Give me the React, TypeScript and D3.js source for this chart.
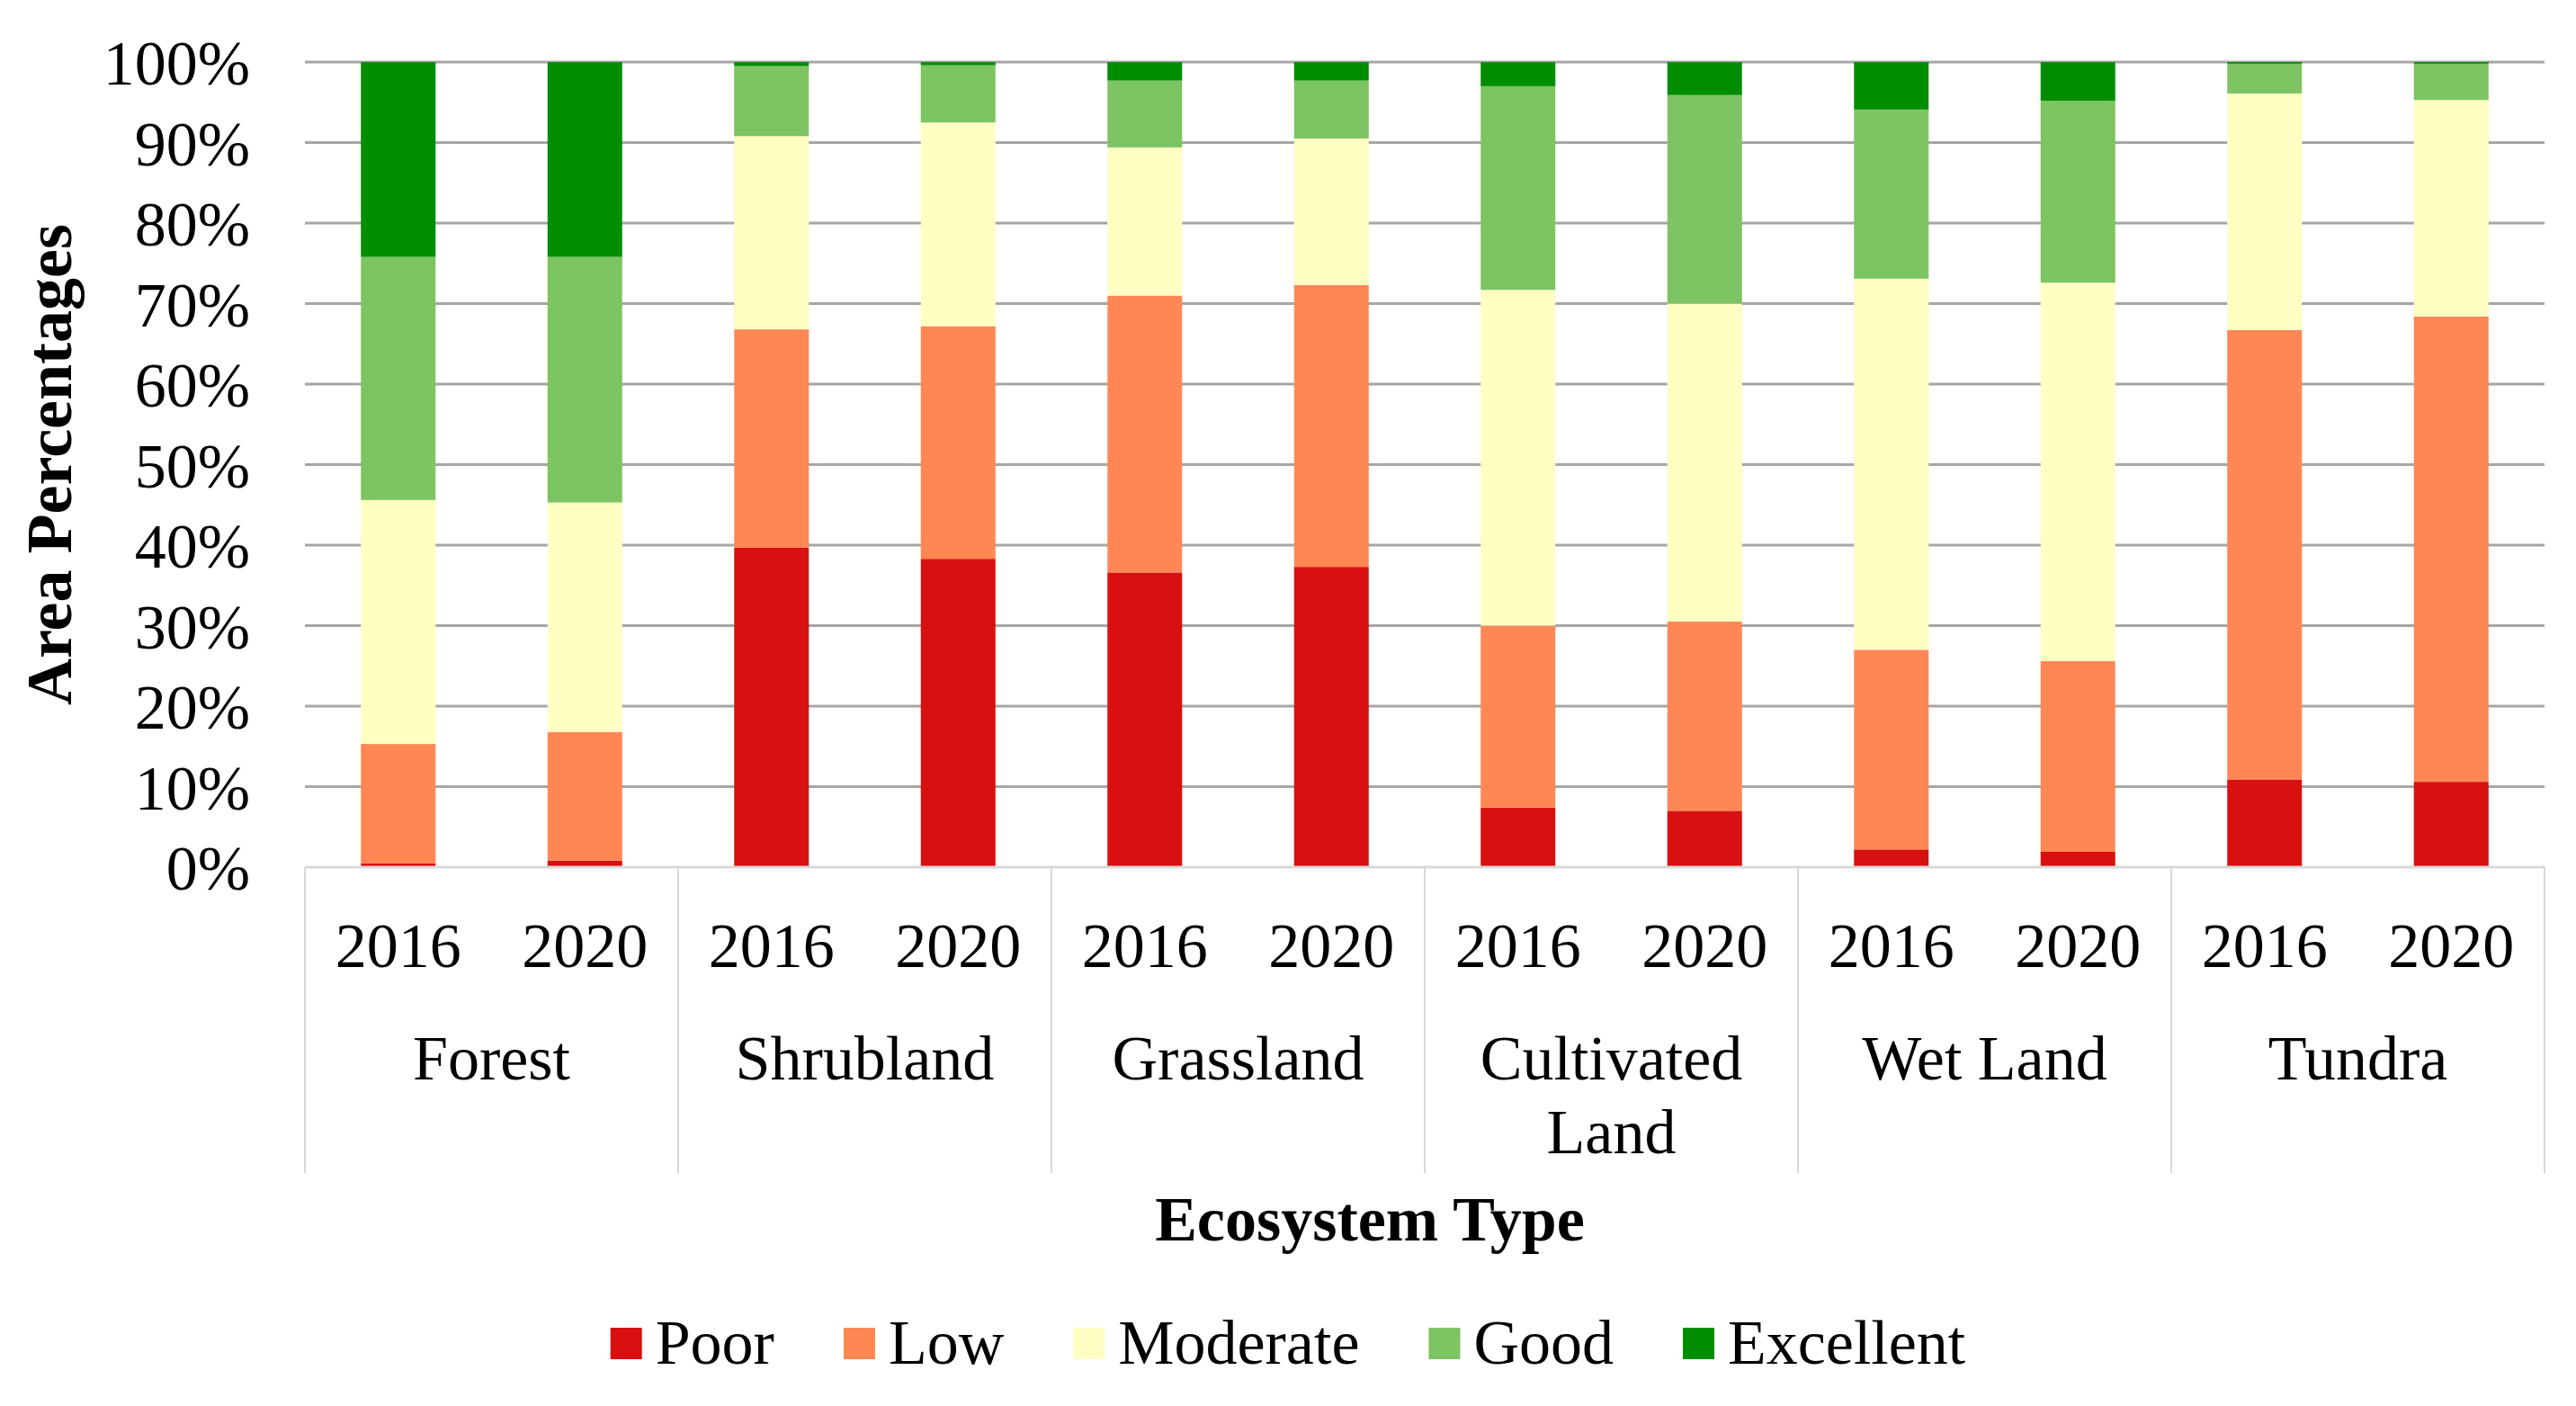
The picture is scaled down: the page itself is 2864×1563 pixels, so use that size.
import * as d3 from 'd3';

const categories = ['Forest', 'Shrubland', 'Grassland', 'Cultivated Land', 'Wet Land', 'Tundra'];
const years = ['2016', '2020'];
const levels = ['Poor', 'Low', 'Moderate', 'Good', 'Excellent'];
const levelColors = ['#D8100F', '#FF8754', '#FFFEC3', '#7DC462', '#008E00'];

// one value per bar: Forest 2016, Forest 2020, Shrubland 2016, ... Tundra 2020
const poor = [0.5, 0.8, 39.7, 38.3, 36.6, 37.3, 7.4, 7.0, 2.2, 1.9, 10.9, 10.6];
const low = [14.8, 16.0, 27.1, 28.9, 34.4, 35.0, 22.6, 23.5, 24.8, 23.7, 55.8, 57.8];
const moderate = [30.3, 28.5, 24.0, 25.3, 18.4, 18.2, 41.7, 39.5, 46.1, 47.0, 29.4, 26.9];
const good = [30.2, 30.5, 8.7, 7.1, 8.3, 7.2, 25.3, 25.9, 21.0, 22.6, 3.7, 4.5];
const excellent = [24.2, 24.2, 0.5, 0.4, 2.3, 2.3, 3.0, 4.1, 5.9, 4.8, 0.2, 0.2];

const yTicks = [0, 10, 20, 30, 40, 50, 60, 70, 80, 90, 100];

const FONT = '"Liberation Serif", "Times New Roman", serif';
const FS = 70;

let ctx: CanvasRenderingContext2D | null = null;
function textWidth(s: string, bold = false) {
  if (!ctx) ctx = document.createElement('canvas').getContext('2d');
  if (!ctx) return s.length * FS * 0.5;
  ctx.font = `${bold ? 'bold ' : ''}${FS}px ${FONT}`;
  return ctx.measureText(s).width;
}

function wrap(label: string, maxWidth: number) {
  const words = label.split(' ');
  const lines: string[] = [];
  let cur = '';
  words.forEach((w) => {
    const next = cur ? `${cur} ${w}` : w;
    if (cur && textWidth(next) > maxWidth) {
      lines.push(cur);
      cur = w;
    } else cur = next;
  });
  if (cur) lines.push(cur);
  return lines;
}

export default function App() {
  const width = 2864;
  const height = 1563;
  const margin = { top: 69, right: 35, bottom: 599, left: 339 };
  const plotBottom = height - margin.bottom;

  const rows = categories.flatMap((cat, ci) =>
    years.map((year, yi) => {
      const i = ci * years.length + yi;
      return {
        key: `${cat}-${year}`,
        category: cat,
        year,
        Poor: poor[i],
        Low: low[i],
        Moderate: moderate[i],
        Good: good[i],
        Excellent: excellent[i],
      };
    })
  );

  const series = d3.stack<any>().keys(levels)(rows);

  const x0 = d3.scaleBand<string>().domain(categories).range([margin.left, width - margin.right]).padding(0);
  const x1 = d3
    .scaleBand<string>()
    .domain(years)
    .range([0, x0.bandwidth()])
    .paddingInner(0.6)
    .paddingOuter(0.3);
  const y = d3.scaleLinear().domain([0, 100]).range([plotBottom, margin.top]);

  const sepBottom = 1304;
  const boundaries = [...categories.map((c) => x0(c) || 0), width - margin.right];

  // legend layout, centred on the chart
  const swatch = 35;
  const swatchGap = 15;
  const itemGap = 77;
  const itemWidths = levels.map((l) => swatch + swatchGap + textWidth(l));
  const legendTotal = d3.sum(itemWidths) + itemGap * (levels.length - 1);
  let lx = width / 2 - legendTotal / 2;
  const legendX = itemWidths.map((w) => {
    const at = lx;
    lx += w + itemGap;
    return at;
  });

  return (
    <div style={{ position: 'fixed', left: 0, top: 0, width, height, background: '#fff' }}>
      <svg width={width} height={height} viewBox={`0 0 ${width} ${height}`} style={{ display: 'block' }}>
        <rect width={width} height={height} fill="#fff" />

        {yTicks
          .filter((t) => t > 0)
          .map((t) => (
            <line
              key={`g${t}`}
              x1={margin.left}
              x2={width - margin.right}
              y1={y(t)}
              y2={y(t)}
              stroke="#A6A6A6"
              strokeWidth={3}
            />
          ))}

        {series.map((s, si) => (
          <g key={s.key} fill={levelColors[si]}>
            {s.map((d: any) => {
              const cx = (x0(d.data.category) || 0) + (x1(d.data.year) || 0);
              return (
                <rect
                  key={d.data.key}
                  x={cx}
                  y={y(d[1])}
                  width={x1.bandwidth()}
                  height={Math.max(0, y(d[0]) - y(d[1]))}
                />
              );
            })}
          </g>
        ))}

        <line
          x1={margin.left}
          x2={width - margin.right}
          y1={plotBottom}
          y2={plotBottom}
          stroke="#D9D9D9"
          strokeWidth={3}
        />
        {boundaries.map((bx, i) => (
          <line key={`s${i}`} x1={bx} x2={bx} y1={plotBottom} y2={sepBottom} stroke="#D9D9D9" strokeWidth={2} />
        ))}

        <g fontFamily={FONT} fontSize={FS} fill="#000">
          {yTicks.map((t) => (
            <text key={`t${t}`} x={278} y={y(t)} dy="0.36em" textAnchor="end">
              {`${t}%`}
            </text>
          ))}

          {categories.map((cat) => (
            <g key={cat}>
              {years.map((yr) => (
                <text
                  key={yr}
                  x={(x0(cat) || 0) + (x1(yr) || 0) + x1.bandwidth() / 2}
                  y={1075}
                  textAnchor="middle"
                >
                  {yr}
                </text>
              ))}
              {wrap(cat, x0.bandwidth()).map((line, li) => (
                <text key={li} x={(x0(cat) || 0) + x0.bandwidth() / 2} y={1200 + li * 82} textAnchor="middle">
                  {line}
                </text>
              ))}
            </g>
          ))}

          <text x={1523} y={1379} textAnchor="middle" fontWeight="bold">
            Ecosystem Type
          </text>
          <text
            transform={`translate(79, ${(margin.top + plotBottom) / 2}) rotate(-90)`}
            textAnchor="middle"
            fontWeight="bold"
            fontSize={72}
          >
            Area Percentages
          </text>

          {levels.map((l, i) => (
            <g key={l} transform={`translate(${legendX[i]}, 0)`}>
              <rect x={0} y={1476} width={swatch} height={swatch} fill={levelColors[i]} />
              <text x={swatch + swatchGap} y={1516}>
                {l}
              </text>
            </g>
          ))}
        </g>
      </svg>
    </div>
  );
}
